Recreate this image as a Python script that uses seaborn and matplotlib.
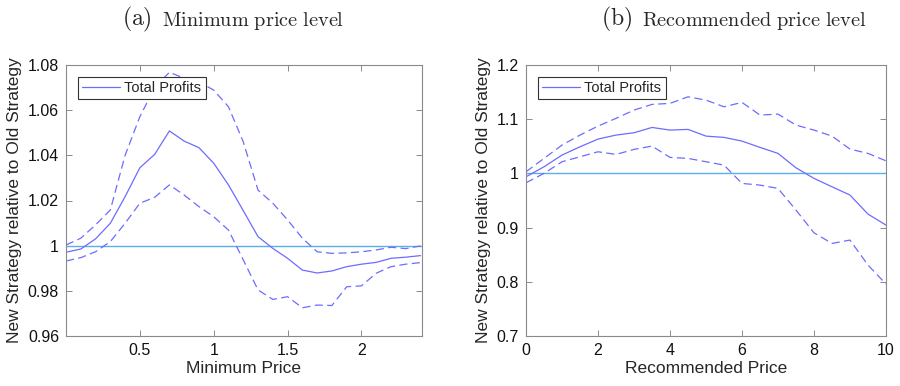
import numpy as np
import pandas as pd
import matplotlib
matplotlib.use("Agg")
import matplotlib.pyplot as plt
import seaborn as sns

# ---- data (a) Minimum price level ----
min_price = [0.0, 0.1, 0.2, 0.3, 0.4, 0.5, 0.6, 0.7, 0.8, 0.9, 1.0, 1.1, 1.2,
             1.3, 1.4, 1.5, 1.6, 1.7, 1.8, 1.9, 2.0, 2.1, 2.2, 2.3, 2.4]
min_mean = [0.9971, 0.9985, 1.0030, 1.0099, 1.0217, 1.0345, 1.0404, 1.0508, 1.0463,
            1.0434, 1.0365, 1.0269, 1.0155, 1.0040, 0.9988, 0.9944, 0.9892, 0.9879,
            0.9888, 0.9907, 0.9918, 0.9926, 0.9944, 0.9949, 0.9956]
min_upper = [1.0003, 1.0033, 1.0092, 1.0158, 1.0400, 1.0571, 1.0700, 1.0768, 1.0741,
             1.0725, 1.0689, 1.0615, 1.0460, 1.0246, 1.0188, 1.0114, 1.0033, 0.9973,
             0.9966, 0.9968, 0.9973, 0.9981, 0.9993, 0.9987, 0.9999]
min_lower = [0.9932, 0.9947, 0.9973, 1.0018, 1.0099, 1.0188, 1.0214, 1.0269, 1.0224,
             1.0173, 1.0128, 1.0069, 0.9937, 0.9804, 0.9762, 0.9774, 0.9725, 0.9737,
             0.9735, 0.9818, 0.9822, 0.9878, 0.9907, 0.9918, 0.9925]

# ---- data (b) Recommended price level ----
rec_price = [0.0, 0.5, 1.0, 1.5, 2.0, 2.5, 3.0, 3.5, 4.0, 4.5, 5.0, 5.5, 6.0,
             6.5, 7.0, 7.5, 8.0, 8.5, 9.0, 9.5, 10.0]
rec_mean = [0.9937, 1.0122, 1.0338, 1.0491, 1.0633, 1.0707, 1.0750, 1.0848, 1.0799,
            1.0812, 1.0688, 1.0664, 1.0596, 1.0480, 1.0369, 1.0103, 0.9908, 0.9753,
            0.9600, 0.9249, 0.9046]
rec_upper = [1.0030, 1.0277, 1.0522, 1.0707, 1.0873, 1.1015, 1.1168, 1.1273, 1.1292,
             1.1413, 1.1352, 1.1229, 1.1310, 1.1076, 1.1094, 1.0891, 1.0799, 1.0688,
             1.0448, 1.0369, 1.0232]
rec_lower = [0.9827, 1.0000, 1.0215, 1.0307, 1.0399, 1.0350, 1.0443, 1.0504, 1.0295,
             1.0277, 1.0215, 1.0153, 0.9815, 0.9784, 0.9723, 0.9323, 0.8904, 0.8708,
             0.8770, 0.8308, 0.7958]

ref_level = 1.0

left_xticks = [0.5, 1, 1.5, 2]
left_xticklabels = ["0.5", "1", "1.5", "2"]
left_yticks = [0.96, 0.98, 1.00, 1.02, 1.04, 1.06, 1.08]
left_yticklabels = ["0.96", "0.98", "1", "1.02", "1.04", "1.06", "1.08"]
right_xticks = [0, 2, 4, 6, 8, 10]
right_xticklabels = ["0", "2", "4", "6", "8", "10"]
right_yticks = [0.7, 0.8, 0.9, 1.0, 1.1, 1.2]
right_yticklabels = ["0.7", "0.8", "0.9", "1", "1.1", "1.2"]

ylabel = "New Strategy relative to Old Strategy"

sns.set_style("white")
plt.rcParams["font.family"] = ["Liberation Sans", "DejaVu Sans"]
plt.rcParams["mathtext.fontset"] = "cm"

LINE = "#6C6CFF"
REF = "#5AAEEA"
SPINE = "#8a8a8a"

fig = plt.figure(figsize=(9.0, 3.86), dpi=100)
axL = fig.add_axes([66 / 900, 1 - 336 / 386, 356 / 900, 271 / 386])
axR = fig.add_axes([526 / 900, 1 - 336 / 386, 360 / 900, 271 / 386])

def draw(ax, x, mean, up, lo):
    df = pd.DataFrame({"x": x, "mean": mean, "up": up, "lo": lo})
    sns.lineplot(data=df, x="x", y="mean", ax=ax, color=LINE, lw=0.9,
                 label="Total Profits")
    for col in ("up", "lo"):
        sns.lineplot(data=df, x="x", y=col, ax=ax, color=LINE, lw=0.9,
                     dashes=False, legend=False, linestyle=(0, (6.5, 3.5)))
    ax.axhline(ref_level, color=REF, lw=1.0, zorder=1)

draw(axL, min_price, min_mean, min_upper, min_lower)
draw(axR, rec_price, rec_mean, rec_upper, rec_lower)

axL.set_xlim(0, 2.41)
axL.set_ylim(0.96, 1.08)
axL.set_xticks(left_xticks)
axL.set_xticklabels(left_xticklabels)
axL.set_yticks(left_yticks)
axL.set_yticklabels(left_yticklabels)
axL.set_xlabel("Minimum Price", fontsize=12.5, labelpad=2)

axR.set_xlim(0, 10)
axR.set_ylim(0.7, 1.2)
axR.set_xticks(right_xticks)
axR.set_xticklabels(right_xticklabels)
axR.set_yticks(right_yticks)
axR.set_yticklabels(right_yticklabels)
axR.set_xlabel("Recommended Price", fontsize=12.5, labelpad=2)

for ax in (axL, axR):
    ax.set_ylabel(ylabel, fontsize=12.5, labelpad=4)
    for s in ax.spines.values():
        s.set_visible(True)
        s.set_color(SPINE)
        s.set_linewidth(0.8)
    ax.tick_params(direction="in", length=4, width=0.7, color=SPINE,
                   labelsize=11.5, labelcolor="#111111", top=True, right=True,
                   bottom=True, left=True, pad=5)
    leg = ax.legend(loc="upper left", fontsize=10.5, frameon=True, fancybox=False,
                    edgecolor="#333333", framealpha=1, borderaxespad=0.8,
                    handlelength=2.6, handletextpad=0.3, borderpad=0.3)
    leg.get_frame().set_linewidth(0.8)

# titles (serif, Computer Modern look)
base_y = 1 - 25.7 / 386
fig.text(152 / 900, base_y, r"$\mathrm{(a)}$", fontsize=17, ha="right", va="baseline")
fig.text(162 / 900, base_y, r"$\mathrm{Minimum\ price\ level}$", fontsize=14.6,
         ha="left", va="baseline")
fig.text(632 / 900, base_y, r"$\mathrm{(b)}$", fontsize=17, ha="right", va="baseline")
fig.text(642 / 900, base_y, r"$\mathrm{Recommended\ price\ level}$", fontsize=14.6,
         ha="left", va="baseline")

fig.savefig("out.png", dpi=100)
